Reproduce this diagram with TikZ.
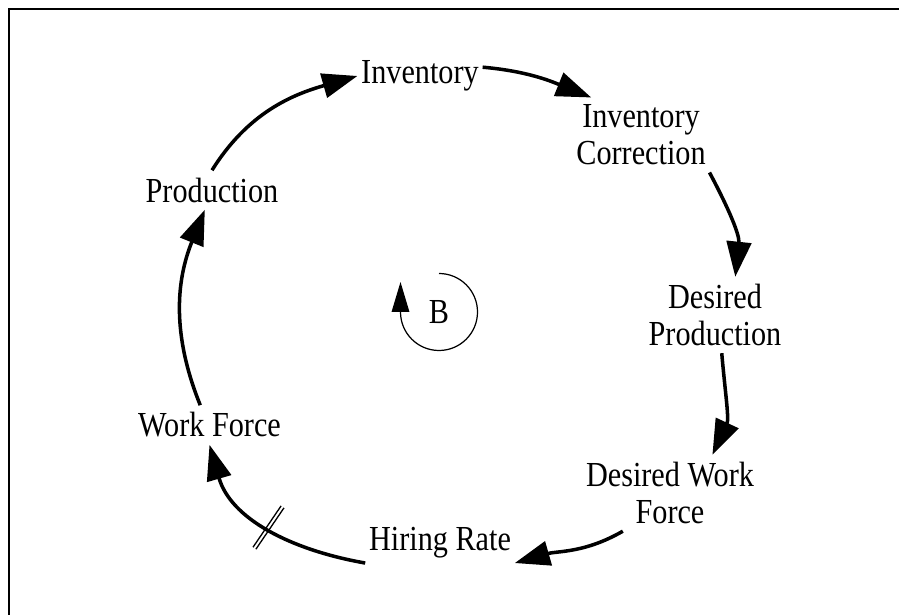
\documentclass[tikz,border=0pt]{standalone}
\usepackage{fontspec}
\setmainfont{Liberation Serif}[FakeStretch=0.86]
\usetikzlibrary{arrows.meta}
\usetikzlibrary{decorations.markings}

\begin{document}
\begin{tikzpicture}[
    var/.style={font=\fontsize{20}{21}\selectfont, align=center, inner xsep=2pt, inner ysep=4pt},
    link/.style={line width=2pt, -{Triangle[length=20pt,width=14pt]}},
    delay/.style={postaction={decorate, decoration={markings, mark=at position 0.5 with {\draw[-, line width=0.75pt] (-0.035,-0.5) -- (-0.035,0.5) (0.035,-0.5) -- (0.035,0.5);}}}}
  ]
  \useasboundingbox (0,0) rectangle (17.98,12.30);
  \draw[line width=1.1pt] (0.18,0) -- (0.18,12.12) -- (17.98,12.12);   %frame

  \node[var] (inv) at (8.40,10.78) {Inventory};
  \node[var] (invcor) at (12.82,9.60) {Inventory\\Correction};
  \node[var] (desprod) at (14.30,6.00) {Desired\\Production};
  \node[var] (deswf) at (13.40,2.44) {Desired Work\\Force};
  \node[var] (hire) at (8.80,1.44) {Hiring Rate};
  \node[var] (wf) at (4.19,3.80) {Work Force};
  \node[var] (prod) at (4.24,8.50) {Production};
  \node[var] (loopB) at (8.78,6.06) {B};

  \draw[link] (prod.north) to[out=58,in=196] (inv.west);
  \draw[link] (inv.8) to[out=-5,in=158] (invcor.143);
  \draw[link] (invcor.south east) to[out=-62,in=84] (desprod.62);
  \draw[link] (desprod.-80) to[out=-85,in=65] (deswf.42);
  \draw[link] (deswf.219) to[out=210,in=16] (hire.-15);
  \draw[link, delay] (hire.195) to[out=170,in=-74] (wf.south);   %delayed link
  \draw[link] (wf.115) to[out=112,in=248] (prod.250);

  \draw[line width=0.7pt, -{Triangle[length=17pt,width=10pt]}] ([shift={(90:0.77)}]loopB.center) arc[start angle=90, end angle=-180, radius=0.77] -- ++(0,0.6);   %loop sign
\end{tikzpicture}
\end{document}
